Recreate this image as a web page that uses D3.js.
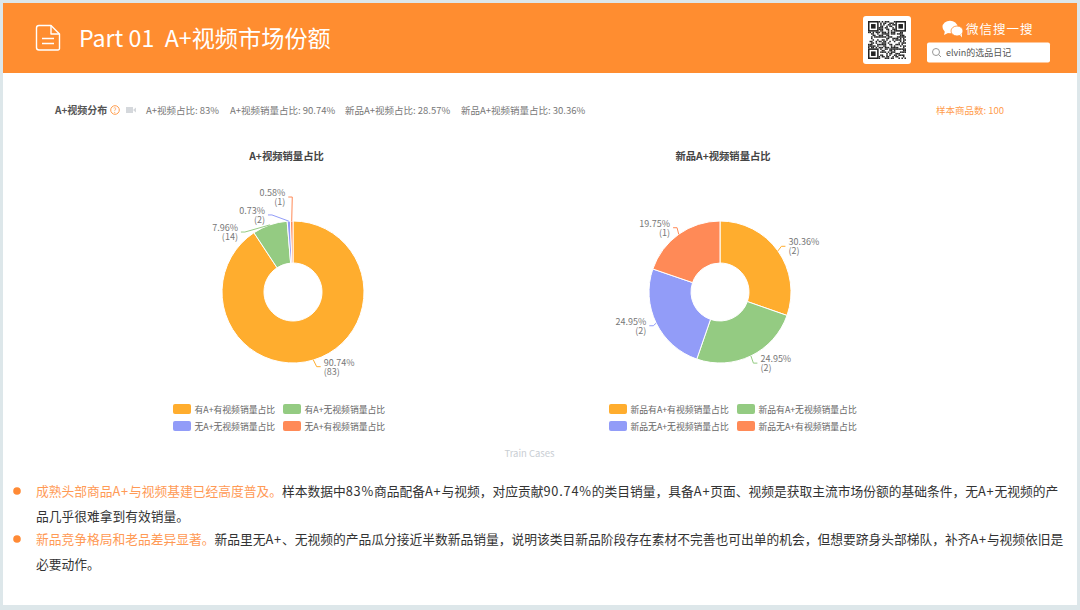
<!DOCTYPE html>
<html>
<head>
<meta charset="utf-8">
<script src="https://cdn.jsdelivr.net/npm/d3@7"></script>
<style>
  html, body { margin: 0; padding: 0; background: #dde7ea; overflow: hidden; }
  svg { display: block; }
  text { font-family: "Noto Sans CJK SC", "Noto Sans", sans-serif; }
</style>
</head>
<body>
<div id="chart"></div>
<script>
// values
const pieTitles = ["A+视频销量占比", "新品A+视频销量占比"];
const salesShare = [90.74, 7.96, 0.73, 0.58];
const salesCount = [83, 14, 2, 1];
const salesNames = ["有A+有视频销量占比", "有A+无视频销量占比", "无A+无视频销量占比", "无A+有视频销量占比"];
const newShare = [30.36, 24.95, 24.95, 19.75];
const newCount = [2, 2, 2, 1];
const newNames = ["新品有A+有视频销量占比", "新品有A+无视频销量占比", "新品无A+无视频销量占比", "新品无A+有视频销量占比"];
const statLabels = ["A+视频占比: 83%", "A+视频销量占比: 90.74%", "新品A+视频占比: 28.57%", "新品A+视频销量占比: 30.36%"];
const bodyLines = [
  [["成熟头部商品A+与视频基建已经高度普及。", 1], ["样本数据中83%商品配备A+与视频，对应贡献90.74%的类目销量，具备A+页面、视频是获取主流市场份额的基础条件，无A+无视频的产", 0]],
  [["品几乎很难拿到有效销量。", 0]],
  [["新品竞争格局和老品差异显著。", 1], ["新品里无A+、无视频的产品瓜分接近半数新品销量，说明该类目新品阶段存在素材不完善也可出单的机会，但想要跻身头部梯队，补齐A+与视频依旧是", 0]],
  [["必要动作。", 0]]
];

const width = 1080, height = 610;
const orange = "#ff8d30";
const colors = ["#ffad2e", "#94cb82", "#929cf8", "#ff8a57"];

const svg = d3.select("#chart").append("svg")
  .attr("width", width)
  .attr("height", height);

// card + header band
svg.append("rect").attr("x", 3).attr("y", 3).attr("width", 1074).attr("height", 602).attr("fill", "#fff");
svg.append("rect").attr("x", 3).attr("y", 3).attr("width", 1074).attr("height", 70).attr("fill", orange);

// document icon
const icon = svg.append("g").attr("fill", "none").attr("stroke", "#fff").attr("stroke-width", 1.4).attr("stroke-linejoin", "round");
icon.append("path").attr("d", "M39 25.5h12l8.5 8.5v14.5a1.5 1.5 0 0 1-1.5 1.5H39a2.5 2.5 0 0 1-2.5-2.5V28a2.5 2.5 0 0 1 2.5-2.5z");
icon.append("path").attr("d", "M51 25.5v8.5h8.5M42 38.5h12M42 43.5h12");

svg.append("text").attr("x", 79).attr("y", 46.5).attr("font-size", 23.2).attr("fill", "#fff")
  .attr("xml:space", "preserve").style("white-space", "pre").text("Part 01  A+视频市场份额");

// QR block, only a decorative stamp
svg.append("rect").attr("x", 863).attr("y", 16).attr("width", 48).attr("height", 48).attr("rx", 3).attr("fill", "#fff");
const qr = svg.append("g").attr("transform", "translate(868,21)");
const cell = 38 / 25;
let seed = 73;
for (let r = 0; r < 25; r++) {
  for (let c = 0; c < 25; c++) {
    seed = (seed * 137 + 59) % 1009;
    const inFinder = (r < 7 && c < 7) || (r < 7 && c > 17) || (r > 17 && c < 7);
    if (inFinder) continue;
    if (seed % 2) qr.append("rect").attr("x", c * cell).attr("y", r * cell).attr("width", cell).attr("height", cell).attr("fill", "#222");
  }
}
[[0, 0], [18, 0], [0, 18]].forEach(([c, r]) => {
  qr.append("rect").attr("x", (c + .5) * cell).attr("y", (r + .5) * cell).attr("width", 6 * cell).attr("height", 6 * cell)
    .attr("fill", "none").attr("stroke", "#222").attr("stroke-width", cell);
  qr.append("rect").attr("x", (c + 2) * cell).attr("y", (r + 2) * cell).attr("width", 3 * cell).attr("height", 3 * cell).attr("fill", "#222");
});

// wechat search
const wx = svg.append("g").attr("fill", "#fff");
wx.append("ellipse").attr("cx", 950).attr("cy", 27).attr("rx", 7.5).attr("ry", 6.3);
wx.append("path").attr("d", "M945 31l-1 4 4-2z");
wx.append("ellipse").attr("cx", 957).attr("cy", 31).attr("rx", 6).attr("ry", 5).attr("stroke", orange).attr("stroke-width", 0.8);
wx.append("path").attr("d", "M960 35l2 2.5-.2-4z");
svg.append("text").attr("x", 966).attr("y", 34).attr("font-size", 12.5).attr("fill", "#fff").attr("letter-spacing", 1).text("微信搜一搜");
svg.append("rect").attr("x", 927).attr("y", 42.5).attr("width", 123).attr("height", 20).attr("rx", 2).attr("fill", "#fff");
svg.append("circle").attr("cx", 936).attr("cy", 52).attr("r", 3.5).attr("fill", "none").attr("stroke", "#999");
svg.append("path").attr("d", "M938.6 54.6l2.4 2.4").attr("stroke", "#999");
svg.append("text").attr("x", 946).attr("y", 55.5).attr("font-size", 9).attr("fill", "#555").text("elvin的选品日记");

// stats row
svg.append("text").attr("x", 55).attr("y", 114).attr("font-size", 10).attr("font-weight", 700).attr("fill", "#555").text("A+视频分布");
svg.append("circle").attr("cx", 115).attr("cy", 110).attr("r", 4.3).attr("fill", "none").attr("stroke", "#ff9d4d");
svg.append("text").attr("x", 115).attr("y", 113).attr("text-anchor", "middle").attr("font-size", 7).attr("fill", "#ff9d4d").text("?");
svg.append("rect").attr("x", 126).attr("y", 107).attr("width", 7).attr("height", 6).attr("fill", "#d5d8dc");
svg.append("path").attr("d", "M133 110l3-2.5v5z").attr("fill", "#d5d8dc");
const statX = [146, 230, 345, 461];
svg.selectAll("text.stat").data(statLabels).enter().append("text")
  .attr("class", "stat").attr("x", (d, i) => statX[i]).attr("y", 114)
  .attr("font-size", 9.5).attr("fill", "#777").text(d => d);
svg.append("text").attr("x", 936).attr("y", 114).attr("font-size", 9.5).attr("fill", "#ff9d4d").text("样本商品数: 100");

// one donut with echarts-like leader lines
function drawPie(cx, titleX, title, values, counts, names, labelNudge) {
  const g = svg.append("g").attr("transform", `translate(${cx},292)`);
  const outer = 71, inner = 29;
  const pie = d3.pie().sort(null).value(d => d)(values);
  const arc = d3.arc().innerRadius(inner).outerRadius(outer);

  svg.append("text").attr("x", titleX).attr("y", 160).attr("text-anchor", "middle")
    .attr("font-size", 10.3).attr("font-weight", 700).attr("fill", "#444").text(title);

  g.selectAll("path.slice").data(pie).enter().append("path")
    .attr("class", "slice").attr("d", arc)
    .attr("fill", (d, i) => colors[i])
    .attr("stroke", "#fff").attr("stroke-width", 1);

  pie.forEach((d, i) => {
    const a = (d.startAngle + d.endAngle) / 2;
    const sin = Math.sin(a), cos = -Math.cos(a);
    const n = labelNudge[i];
    const side = n.side;
    const x0 = outer * sin, y0 = outer * cos;
    const r1 = outer + n.len;
    const x1 = r1 * sin + n.dx, y1 = r1 * cos + n.dy;
    const x2 = x1 + side * 4;
    g.append("path")
      .attr("d", `M${x0},${y0}L${x1},${y1}L${x2},${y1}`)
      .attr("fill", "none").attr("stroke", colors[i]).attr("stroke-width", 1);
    const label = g.append("text").attr("font-size", 9).attr("fill", "#777")
      .attr("text-anchor", side > 0 ? "start" : "end");
    label.append("tspan").attr("x", x2 + side * 3).attr("y", y1 - 1).text(d3.format(".2f")(d.data) + "%");
    label.append("tspan").attr("x", x2 + side * 3).attr("y", y1 + 8).text(`(${counts[i]})`);
  });

  // legend, two by two
  const wide = names[0].length > 10;
  const legend = svg.append("g").attr("transform", `translate(${cx - (wide ? 111 : 120)},0)`);
  const colW = wide ? 128 : 110;
  names.forEach((name, i) => {
    const lx = (i % 2) * colW, ly = 404 + Math.floor(i / 2) * 17;
    legend.append("rect").attr("x", lx).attr("y", ly).attr("width", 18).attr("height", 10).attr("rx", 2).attr("fill", colors[i]);
    legend.append("text").attr("x", lx + 21.5).attr("y", ly + 8.5).attr("font-size", 8.8).attr("fill", "#666").text(name);
  });
}

drawPie(293, 286.5, pieTitles[0], salesShare, salesCount, salesNames, [
  { len: 8, dx: 1, dy: -1, side: 1 },
  { len: 12, dx: -21, dy: 18.5, side: -1 },
  { len: 9, dx: -16.3, dy: 2.8, side: -1 },
  { len: 24, dx: 1, dy: 0, side: -1 }
]);
drawPie(720, 723, pieTitles[1], newShare, newCount, newNames, [
  { len: 8, dx: -3, dy: 0, side: 1 },
  { len: 8, dx: -1, dy: 0, side: 1 },
  { len: 6, dx: 2.5, dy: 0, side: -1 },
  { len: 8, dx: 3, dy: 0, side: -1 }
]);

svg.append("text").attr("x", 529.5).attr("y", 457).attr("text-anchor", "middle").attr("font-size", 9.5).attr("fill", "#c9ced3").text("Train Cases");

// commentary, latin runs sit a bit looser than the CJK around them
const lineY = [496, 521, 544, 569];
bodyLines.forEach((runs, i) => {
  const t = svg.append("text").attr("x", 36).attr("y", lineY[i]).attr("font-size", 12.75);
  runs.forEach(([s, hi]) => {
    s.split(/([A-Za-z0-9+.%]+)/).filter(p => p).forEach(p => {
      t.append("tspan").attr("fill", hi ? "#ff9a55" : "#333")
        .attr("letter-spacing", /^[A-Za-z0-9+.%]/.test(p) ? 0.8 : 0)
        .text(p);
    });
  });
});
[491, 539].forEach(y => svg.append("circle").attr("cx", 17).attr("cy", y).attr("r", 3.8).attr("fill", "#ff8a35"));
</script>
</body>
</html>
